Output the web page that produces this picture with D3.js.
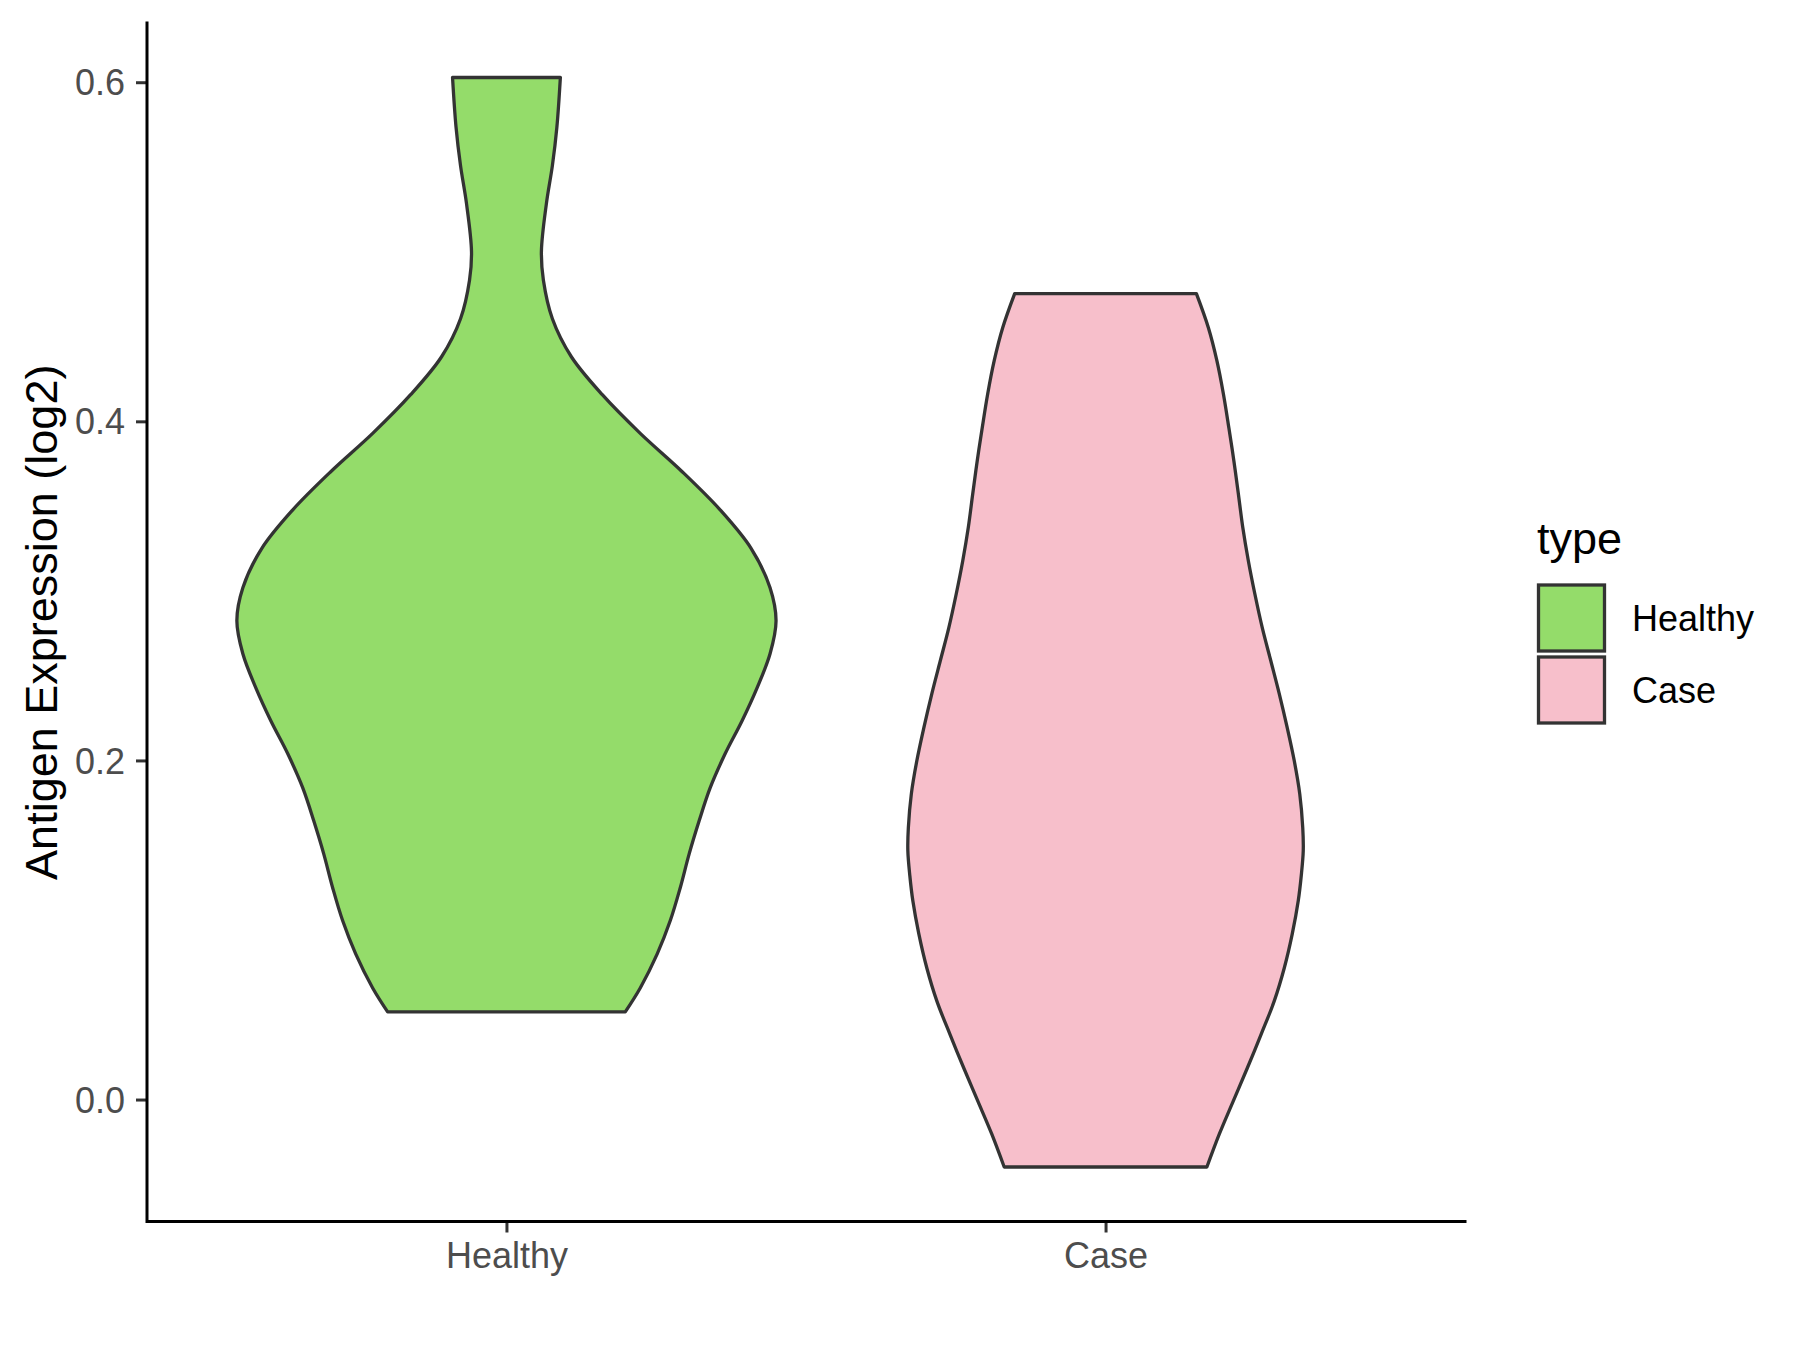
<!DOCTYPE html>
<html>
<head>
<meta charset="utf-8">
<script src="https://cdn.jsdelivr.net/npm/d3@7"></script>
<style>
	body { margin: 0; background: #fff; }
	text { font-family: "Liberation Sans", Arial, sans-serif; }
</style>
</head>
<body>
<div id="chart"></div>
<script>

// groups on the x axis
var categories = ['Healthy', 'Case'];

// violin outlines: expression value and estimated density
var healthyValues = [0.6028, 0.5735, 0.5508, 0.5284, 0.5001, 0.4832, 0.4605, 0.4381, 0.4157, 0.3929,
	0.3703, 0.3478, 0.3251, 0.3018, 0.2824, 0.2629, 0.2428, 0.2234, 0.2039, 0.1838,
	0.1644, 0.1449, 0.1248, 0.1054, 0.0859, 0.0658, 0.0517];
var healthyDensity = [0.54, 0.505, 0.46, 0.40, 0.35, 0.37, 0.46, 0.65, 0.96, 1.34,
	1.76, 2.14, 2.45, 2.64, 2.70, 2.64, 2.51, 2.36, 2.19, 2.04,
	1.93, 1.83, 1.74, 1.64, 1.51, 1.34, 1.19];

var caseValues = [0.4753, 0.4552, 0.4358, 0.4163, 0.3962, 0.3768, 0.3573, 0.3372, 0.3178, 0.2983,
	0.2782, 0.2588, 0.2393, 0.2192, 0.1998, 0.1803, 0.1603, 0.1467, 0.1320, 0.1172,
	0.0977, 0.0776, 0.0582, 0.0387, 0.0186, -0.0008, -0.0203, -0.0398];
var caseDensity = [0.91, 1.03, 1.115, 1.18, 1.235, 1.285, 1.33, 1.375, 1.43, 1.495,
	1.57, 1.655, 1.74, 1.82, 1.89, 1.945, 1.975, 1.98, 1.96, 1.93,
	1.87, 1.79, 1.69, 1.56, 1.42, 1.28, 1.14, 1.015];

var yTicks = [0.0, 0.2, 0.4, 0.6];
var fillColors = ['#94DC6A', '#F7BFCB'];

function violinChart() {

	function chart(selection) {

		selection.each(function() {

			var width = 1800,
				height = 1350;
			var left = 147, right = 1465, top = 23, bottom = 1221.5;

			var svg = d3.select(this).append('svg')
				.attr('width', width)
				.attr('height', height);

			var groups = [
				{ name: categories[0], values: healthyValues, density: healthyDensity },
				{ name: categories[1], values: caseValues, density: caseDensity }
			];

			var allValues = healthyValues.concat(caseValues);
			var lo = d3.min(allValues), hi = d3.max(allValues);
			var pad = (hi - lo) * 0.05;

			var y = d3.scaleLinear()
				.domain([lo - pad, hi + pad])
				.range([bottom, top]);

			var x = d3.scalePoint()
				.domain(categories)
				.range([left, right])
				.padding(0.6);

			var color = d3.scaleOrdinal()
				.domain(categories)
				.range(fillColors);

			var maxDensity = d3.max(healthyDensity.concat(caseDensity));
			var w = d3.scaleLinear()
				.domain([0, maxDensity])
				.range([0, x.step() * 0.45]);

			// violins
			groups.forEach(function(g) {
				var pts = g.values.map(function(v, i) { return { v: v, d: g.density[i] }; });
				var area = d3.area()
					.y(function(p) { return y(p.v); })
					.x0(function(p) { return x(g.name) - w(p.d); })
					.x1(function(p) { return x(g.name) + w(p.d); })
					.curve(d3.curveCatmullRom);

				svg.append('path')
					.datum(pts)
					.attr('d', area)
					.attr('fill', color(g.name))
					.attr('stroke', '#333333')
					.attr('stroke-width', 3.3)
					.attr('stroke-linejoin', 'round');
			});

			// y axis
			var yAxis = d3.axisLeft(y)
				.tickValues(yTicks)
				.tickFormat(d3.format('.1f'))
				.tickSize(11)
				.tickPadding(11);

			var gy = svg.append('g')
				.attr('transform', 'translate(' + left + ',0)')
				.call(yAxis);
			gy.select('.domain').remove();
			gy.selectAll('.tick line').attr('stroke', '#333333').attr('stroke-width', 3);
			gy.selectAll('.tick text')
				.attr('fill', '#4D4D4D')
				.attr('font-size', 36)
				.attr('dy', '0.35em');

			// x axis
			var xAxis = d3.axisBottom(x)
				.tickSize(11)
				.tickPadding(11);

			var gx = svg.append('g')
				.attr('transform', 'translate(0,' + bottom + ')')
				.call(xAxis);
			gx.select('.domain').remove();
			gx.selectAll('.tick line').attr('stroke', '#333333').attr('stroke-width', 3);
			gx.selectAll('.tick text')
				.attr('fill', '#4D4D4D')
				.attr('font-size', 36)
				.attr('y', 46.5)
				.attr('dy', 0);

			// axis lines
			svg.append('path')
				.attr('d', 'M' + left + ',' + top + 'V' + bottom + 'H' + right)
				.attr('fill', 'none')
				.attr('stroke', '#000')
				.attr('stroke-width', 3)
				.attr('stroke-linecap', 'square');

			// y title
			svg.append('text')
				.attr('transform', 'translate(57,' + ((top + bottom) / 2) + ') rotate(-90)')
				.attr('text-anchor', 'middle')
				.attr('font-size', 45)
				.attr('fill', '#000')
				.text('Antigen Expression (log2)');

			// legend
			var legend = svg.append('g')
				.attr('transform', 'translate(1537,0)');

			legend.append('text')
				.attr('x', 0)
				.attr('y', 554)
				.attr('font-size', 45)
				.attr('fill', '#000')
				.text('type');

			var item = legend.selectAll('.item')
				.data(categories)
				.enter().append('g')
				.attr('class', 'item')
				.attr('transform', function(d, i) { return 'translate(0,' + (585 + i * 72) + ')'; });

			item.append('rect')
				.attr('x', 1.5)
				.attr('y', 0)
				.attr('width', 66)
				.attr('height', 66)
				.attr('fill', function(d) { return color(d); })
				.attr('stroke', '#333333')
				.attr('stroke-width', 3.3);

			item.append('text')
				.attr('x', 95)
				.attr('y', 33)
				.attr('dy', '0.35em')
				.attr('font-size', 36)
				.attr('fill', '#000')
				.text(function(d) { return d; });
		});
	}

	return chart;
}

d3.select('#chart').call(violinChart());
</script>
</body>
</html>
